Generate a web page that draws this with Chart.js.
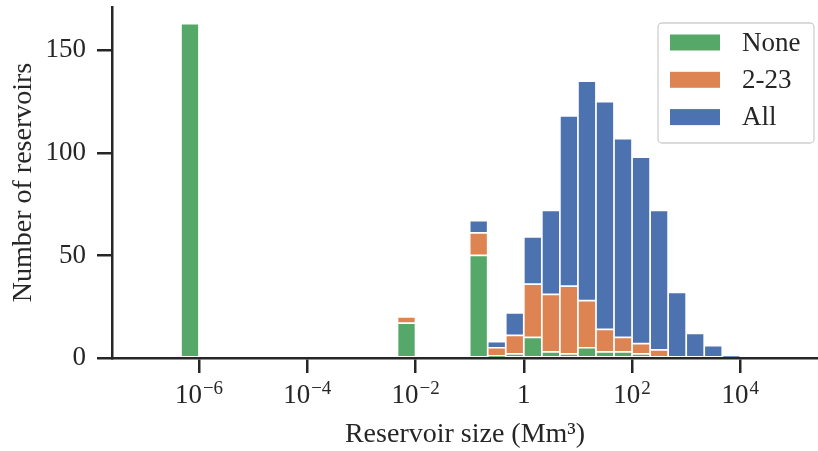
<!DOCTYPE html>
<html lang="en">
<head>
<meta charset="UTF-8">
<title>Reservoir sizes</title>
<script src="https://cdn.jsdelivr.net/npm/chart.js@4"></script>
<style>
  html, body { margin: 0; padding: 0; background: #fff; }
</style>
</head>
<body>
<canvas id="hist" width="818" height="451"></canvas>
<script>
  // bin centres as log10(size in Mm3), bins are a third of a decade wide
  const binCentres = [-6.1667, -2.1667, -0.8333, -0.5, -0.1667, 0.1667, 0.5, 0.8333,
                      1.1667, 1.5, 1.8333, 2.1667, 2.5, 2.8333, 3.1667, 3.5, 3.8333];
  // counts per bin, stacked from the bottom up
  const countsNone  = [163, 17, 50, 1, 2, 10, 3, 2, 5, 3, 3, 2, 0, 0, 0, 0, 0];
  const counts2to23 = [0, 3, 11, 4, 9, 26, 28, 33, 23, 11, 7, 5, 4, 0, 0, 0, 0];
  const countsAll   = [0, 0, 6, 3, 11, 23, 41, 83, 107, 111, 97, 91, 68, 32, 12, 6, 1];

  // x ticks are decades, label = base + superscript exponent
  const xTickValues = [-6, -4, -2, 0, 2, 4];
  const xTickBase = ['10', '10', '10', '1', '10', '10'];
  const xTickExp = ['\u22126', '\u22124', '\u22122', '', '2', '4'];
  const yTickValues = [0, 50, 100, 150];

  const ink = '#262626';
  const serif = '"Liberation Serif", "DejaVu Serif", serif';

  function pts(counts) {
    return binCentres.map((x, i) => ({ x: x, y: counts[i] }));
  }

  function barSet(label, counts, colour) {
    return {
      label: label,
      data: pts(counts),
      backgroundColor: colour,
      borderColor: '#ffffff',
      borderWidth: 1.2,
      borderSkipped: false,
      barPercentage: 1,
      categoryPercentage: 1
    };
  }

  // decade labels with a raised exponent (10^-6 etc)
  const powerLabels = {
    id: 'powerLabels',
    afterDraw(chart) {
      const ctx = chart.ctx;
      const xs = chart.scales.x;
      const baseY = xs.top + 45;
      ctx.save();
      ctx.fillStyle = ink;
      ctx.textBaseline = 'alphabetic';
      xTickValues.forEach((v, i) => {
        ctx.font = '27px ' + serif;
        const bw = ctx.measureText(xTickBase[i]).width;
        ctx.font = '19px ' + serif;
        const ew = xTickExp[i] ? ctx.measureText(xTickExp[i]).width + 1 : 0;
        const x0 = xs.getPixelForValue(v) - (bw + ew) / 2;
        ctx.font = '27px ' + serif;
        ctx.fillText(xTickBase[i], x0, baseY);
        if (ew) {
          ctx.font = '19px ' + serif;
          ctx.fillText(xTickExp[i], x0 + bw + 1, baseY - 9.5);
        }
      });
      ctx.restore();
    }
  };

  // legend box in the top right corner of the plot, like matplotlib's
  const boxLegend = {
    id: 'boxLegend',
    afterDraw(chart) {
      const ctx = chart.ctx;
      const area = chart.chartArea;
      const w = 156, h = 120;
      const left = area.right - 4 - w, top = area.top + 16;
      ctx.save();
      ctx.beginPath();
      ctx.roundRect(left, top, w, h, 4);
      ctx.fillStyle = 'rgba(255,255,255,0.8)';
      ctx.fill();
      ctx.strokeStyle = '#d0d0d0';
      ctx.lineWidth = 1.3;
      ctx.stroke();
      ctx.font = '27px ' + serif;
      ctx.textBaseline = 'middle';
      chart.data.datasets.forEach((ds, i) => {
        const cy = top + 19.5 + i * 37.3;
        ctx.fillStyle = ds.backgroundColor;
        ctx.fillRect(left + 12, cy - 8, 50, 16);
        ctx.fillStyle = ink;
        ctx.fillText(ds.label, left + 84, cy + 1);
      });
      ctx.restore();
    }
  };

  new Chart(document.getElementById('hist'), {
    type: 'bar',
    data: {
      datasets: [
        barSet('None', countsNone, '#55A868'),
        barSet('2-23', counts2to23, '#DD8452'),
        barSet('All', countsAll, '#4C72B0')
      ]
    },
    options: {
      responsive: false,
      animation: false,
      layout: { padding: { top: 7, right: 0, left: 0, bottom: 0 } },
      plugins: {
        legend: { display: false },
        tooltip: { enabled: false }
      },
      scales: {
        x: {
          type: 'linear',
          min: -7.607,
          max: 5.435,
          stacked: true,
          offset: false,
          afterBuildTicks: (axis) => { axis.ticks = xTickValues.map(v => ({ value: v })); },
          afterFit: (axis) => { axis.height = 93; axis.paddingLeft = 0; axis.paddingRight = 0; },
          grid: { display: true, offset: false, drawOnChartArea: false, tickLength: 15, lineWidth: 2.5, color: ink },
          border: { display: true, color: ink, width: 2.5, z: 1 },
          ticks: {
            autoSkip: false,
            maxRotation: 0,
            callback: () => ''
          },
          title: {
            display: true,
            text: 'Reservoir size (Mm\u00B3)',
            color: ink,
            font: { family: serif, size: 28, lineHeight: 1.2 },
            padding: { top: 0, bottom: 0 }
          }
        },
        y: {
          min: 0,
          max: 171.15,
          stacked: true,
          afterBuildTicks: (axis) => { axis.ticks = yTickValues.map(v => ({ value: v })); },
          afterFit: (axis) => { axis.width = 112; axis.paddingTop = 0; axis.paddingBottom = 0; },
          grid: { display: true, drawOnChartArea: false, tickLength: 15, lineWidth: 2.5, color: ink },
          border: { display: true, color: ink, width: 2.5, z: 1 },
          ticks: {
            padding: 11,
            color: ink,
            font: { family: serif, size: 27 }
          },
          title: {
            display: true,
            text: 'Number of reservoirs',
            color: ink,
            font: { family: serif, size: 28, lineHeight: 1.2 },
            padding: { top: 7, bottom: 0 }
          }
        }
      }
    },
    plugins: [powerLabels, boxLegend]
  });
</script>
</body>
</html>
